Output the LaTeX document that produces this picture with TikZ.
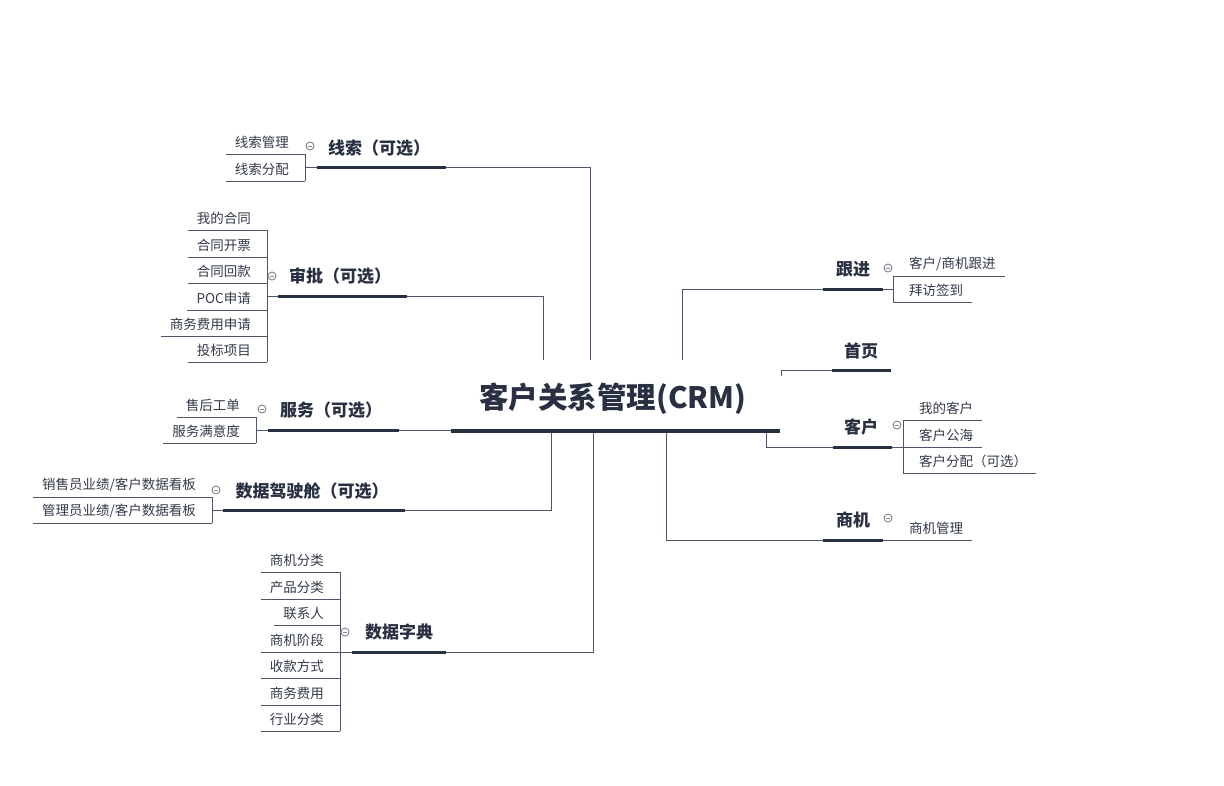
\documentclass[tikz,border=0pt]{standalone}
\usepackage{fontspec}
\setmainfont{Noto Sans CJK SC}
\definecolor{darkc}{HTML}{283042}
\definecolor{linec}{HTML}{4E5566}
\definecolor{txtc}{HTML}{333A48}
\definecolor{togc}{HTML}{858A94}
\tikzset{
 thinl/.style={draw=linec, line width=1pt},
 thickl/.style={draw=darkc, line width=3pt},
 rootl/.style={draw=darkc, line width=4pt},
 ctext/.style={font=\fontsize{13.5}{16}\selectfont, text=txtc, inner xsep=9pt, inner ysep=0pt},
 btext/.style={font=\fontsize{17}{20}\selectfont\bfseries, text=darkc, inner sep=0pt},
 roottext/.style={font=\fontsize{29.5}{34}\selectfont\bfseries, text=darkc, inner sep=0pt},
 tog/.style={circle, draw=togc, line width=1pt, fill=white, minimum size=8pt, inner sep=0pt,
   path picture={\draw[togc, line width=0.8pt] ([xshift=-2.2pt]path picture bounding box.center) -- ([xshift=2.2pt]path picture bounding box.center);}},
}
\newcommand\lkid[4]{\node[ctext,anchor=east] (#1) at (#2-7,#3-12) {#4}; \draw[thinl] (#1.west |- 0,#3) -- (#2,#3);}
\newcommand\rkid[4]{\node[ctext,anchor=west] (#1) at (#2+7,#3-12) {#4}; \draw[thinl] (#2,#3) -- (#1.east |- 0,#3);}
\begin{document}
\begin{tikzpicture}[x=1pt,y=-1pt]
\useasboundingbox[fill=white] (0,0) rectangle (1224,785);

% root
\node[roottext] (root) at (613,399) {客户关系管理(CRM)};
\coordinate (rl) at (451,431);
\coordinate (rr) at (780,431);

% ---------- 线索
\node[btext] (xs) at (379,148) {线索（可选）};
\coordinate (xsa) at (317,167); \coordinate (xsb) at (446,167);
\coordinate (xsc) at (590,360);
\draw[thinl] (xsc) |- (xsb);
\draw[thinl] (xsa) -- (305,167);
\draw[thickl] (xsa) -- (xsb);
\draw[thinl] (305,154) -- (305,181);
\lkid{xs1}{305}{154}{线索管理}
\lkid{xs2}{305}{181}{线索分配}
\node[tog] (xst) at (310,146) {};

% ---------- 审批
\node[btext] (sp) at (340,276) {审批（可选）};
\coordinate (spa) at (278,296); \coordinate (spb) at (407,296);
\coordinate (spc) at (543,360);
\draw[thinl] (spc) |- (spb);
\draw[thinl] (spa) -- (267,296);
\draw[thickl] (spa) -- (spb);
\draw[thinl] (267,230) -- (267,362);
\lkid{sp1}{267}{230}{我的合同}
\lkid{sp2}{267}{257}{合同开票}
\lkid{sp3}{267}{283}{合同回款}
\lkid{sp4}{267}{310}{POC申请}
\lkid{sp5}{267}{336}{商务费用申请}
\lkid{sp6}{267}{362}{投标项目}
\node[tog] (spt) at (272,276) {};

% ---------- 服务
\node[btext] (fw) at (331,410) {服务（可选）};
\coordinate (fwa) at (268,430); \coordinate (fwb) at (399,430);
\draw[thinl] (rl |- 0,430) -- (fwb);
\draw[thinl] (fwa) -- (256,430);
\draw[thickl] (fwa) -- (fwb);
\draw[thinl] (256,417) -- (256,443);
\lkid{fw1}{256}{417}{售后工单}
\lkid{fw2}{256}{443}{服务满意度}
\node[tog] (fwt) at (262,409) {};

% ---------- 数据驾驶舱
\node[btext] (js) at (312,491) {数据驾驶舱（可选）};
\coordinate (jsa) at (223,510); \coordinate (jsb) at (405,510);
\coordinate (jsc) at (551,431);
\draw[thinl] (jsc) |- (jsb);
\draw[thinl] (jsa) -- (212,510);
\draw[thickl] (jsa) -- (jsb);
\draw[thinl] (212,497) -- (212,523);
\lkid{js1}{212}{497}{销售员业绩/客户数据看板}
\lkid{js2}{212}{523}{管理员业绩/客户数据看板}
\node[tog] (jst) at (216,490) {};

% ---------- 数据字典
\node[btext] (zd) at (399,632) {数据字典};
\coordinate (zda) at (352,652); \coordinate (zdb) at (446,652);
\coordinate (zdc) at (593,431);
\draw[thinl] (zdc) |- (zdb);
\draw[thinl] (zda) -- (340,652);
\draw[thickl] (zda) -- (zdb);
\draw[thinl] (340,572) -- (340,731);
\lkid{zd1}{340}{572}{商机分类}
\lkid{zd2}{340}{599}{产品分类}
\lkid{zd3}{340}{625}{联系人}
\lkid{zd4}{340}{652}{商机阶段}
\lkid{zd5}{340}{678}{收款方式}
\lkid{zd6}{340}{705}{商务费用}
\lkid{zd7}{340}{731}{行业分类}
\node[tog] (zdt) at (345,632) {};

% ---------- 跟进
\node[btext] (gj) at (853,269) {跟进};
\coordinate (gja) at (823,289); \coordinate (gjb) at (883,289);
\coordinate (gjc) at (682,360);
\draw[thinl] (gjc) |- (gja);
\draw[thinl] (gjb) -- (893,289);
\draw[thickl] (gja) -- (gjb);
\draw[thinl] (893,276) -- (893,302);
\rkid{gj1}{893}{276}{客户/商机跟进}
\rkid{gj2}{893}{302}{拜访签到}
\node[tog] (gjt) at (888,268) {};

% ---------- 首页
\node[btext] (sy) at (861,351) {首页};
\coordinate (sya) at (832,370); \coordinate (syb) at (891,370);
\coordinate (syc) at (781,376);
\draw[thinl] (syc) |- (sya);
\draw[thickl] (sya) -- (syb);

% ---------- 客户
\node[btext] (kh) at (861,427) {客户};
\coordinate (kha) at (833,447); \coordinate (khb) at (892,447);
\coordinate (khc) at (766,431);
\draw[thinl] (khc) |- (kha);
\draw[thinl] (khb) -- (903,447);
\draw[thickl] (kha) -- (khb);
\draw[thinl] (903,420) -- (903,473);
\rkid{kh1}{903}{420}{我的客户}
\rkid{kh2}{903}{447}{客户公海}
\rkid{kh3}{903}{473}{客户分配（可选）}
\node[tog] (kht) at (897,425) {};

% ---------- 商机
\node[btext] (sj) at (853,520) {商机};
\coordinate (sja) at (823,540); \coordinate (sjb) at (883,540);
\coordinate (sjc) at (666,431);
\draw[thinl] (sjc) |- (sja);
\node[ctext,anchor=west] (sj1) at (900,528) {商机管理};
\draw[thinl] (sjb) -- (sj1.east |- 0,540);
\draw[thickl] (sja) -- (sjb);
\node[tog] (sjt) at (888,518) {};

% root underline on top
\draw[rootl] (rl) -- (rr);
\end{tikzpicture}
\end{document}
